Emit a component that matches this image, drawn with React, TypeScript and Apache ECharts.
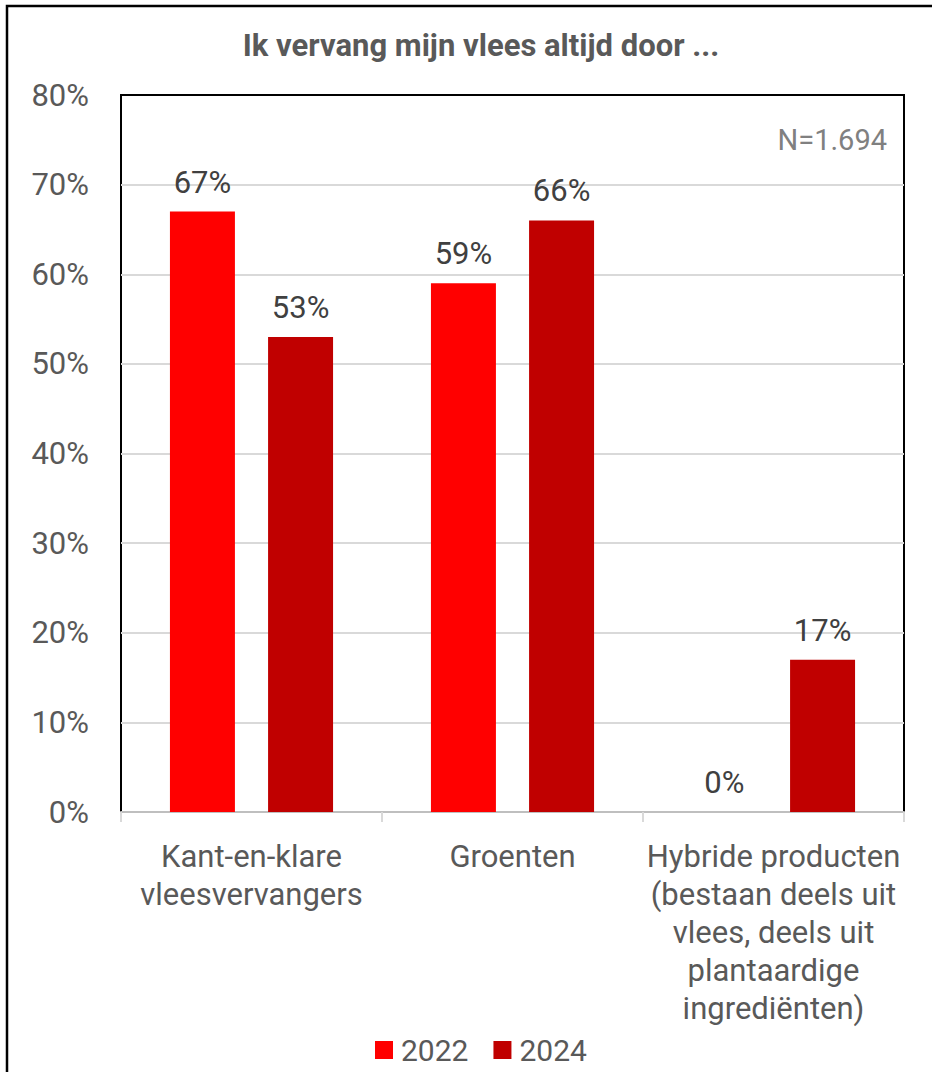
import React, { useEffect, useRef } from "react";
import * as echarts from "echarts";

const titleText = "Ik vervang mijn vlees altijd door ...";
const sampleNote = "N=1.694";
const categories = [
  "Kant-en-klare\nvleesvervangers",
  "Groenten",
  "Hybride producten\n(bestaan deels uit\nvlees, deels uit\nplantaardige\ningrediënten)",
];
const seriesNames = ["2022", "2024"];
const values2022 = [67, 59, 0];
const values2024 = [53, 66, 17];
const yTicks = { min: 0, max: 80, interval: 10 };

const FONT = "Roboto";

export default function App() {
  const ref = useRef<HTMLDivElement>(null);
  useEffect(() => {
    if (!ref.current) return;
    const chart = echarts.init(ref.current, null, { renderer: "svg" });
    const labelStyle = {
      show: true,
      position: "top",
      distance: 14,
      formatter: "{c}%",
      color: "#404040",
      fontFamily: FONT,
      fontSize: 31,
      lineHeight: 31,
    };
    chart.setOption({
      animation: false,
      backgroundColor: "#ffffff",
      textStyle: { fontFamily: FONT },
      title: {
        text: titleText,
        left: 481,
        top: 27,
        padding: 0,
        textAlign: "center",
        textStyle: {
          fontFamily: FONT,
          fontWeight: "bold",
          fontSize: 31,
          lineHeight: 36,
          color: "#595959",
        },
      },
      legend: {
        data: seriesNames,
        left: 370,
        top: 1029,
        itemWidth: 18,
        itemHeight: 18,
        itemGap: 25,
        icon: "rect",
        textStyle: {
          fontFamily: FONT,
          fontSize: 30,
          lineHeight: 32,
          color: "#595959",
          padding: [0, 0, 0, 3],
        },
      },
      grid: {
        left: 121,
        top: 95,
        width: 783,
        height: 717,
        show: true,
        borderColor: "#000000",
        borderWidth: 2,
        backgroundColor: "transparent",
      },
      xAxis: {
        type: "category",
        data: categories,
        axisLine: { show: true, lineStyle: { color: "#bfbfbf", width: 2 } },
        axisTick: { show: true, length: 10, lineStyle: { color: "#d9d9d9", width: 2 } },
        axisLabel: {
          interval: 0,
          margin: 25,
          fontFamily: FONT,
          fontSize: 31,
          lineHeight: 38,
          color: "#595959",
          align: "center",
        },
      },
      yAxis: {
        type: "value",
        min: yTicks.min,
        max: yTicks.max,
        interval: yTicks.interval,
        axisLine: { show: false },
        axisTick: { show: false },
        splitLine: {
          show: true,
          showMaxLine: false,
          showMinLine: false,
          lineStyle: { color: "#d9d9d9", width: 2 },
        },
        axisLabel: {
          formatter: "{value}%",
          margin: 32,
          fontFamily: FONT,
          fontSize: 31,
          color: "#595959",
        },
      },
      graphic: [
        {
          type: "rect",
          shape: { x: 7, y: 6, width: 960, height: 1100 },
          style: { fill: "none", stroke: "#000000", lineWidth: 2.5 },
          silent: true,
          z: 100,
        },
        {
          type: "text",
          x: 887,
          y: 140,
          style: {
            text: sampleNote,
            fill: "#808080",
            font: `29px ${FONT}`,
            textAlign: "right",
            textVerticalAlign: "middle",
          },
        },
      ],
      series: [
        {
          name: seriesNames[0],
          type: "bar",
          data: values2022,
          barWidth: "24.9%",
          barGap: "51%",
          itemStyle: { color: "#ff0000" },
          label: labelStyle,
        },
        {
          name: seriesNames[1],
          type: "bar",
          data: values2024,
          barWidth: "24.9%",
          barGap: "51%",
          itemStyle: { color: "#c00000" },
          label: labelStyle,
        },
      ],
    });
    return () => chart.dispose();
  }, []);
  return (
    <div
      ref={ref}
      style={{ position: "absolute", left: 0, top: 0, width: 932, height: 1072 }}
    />
  );
}
